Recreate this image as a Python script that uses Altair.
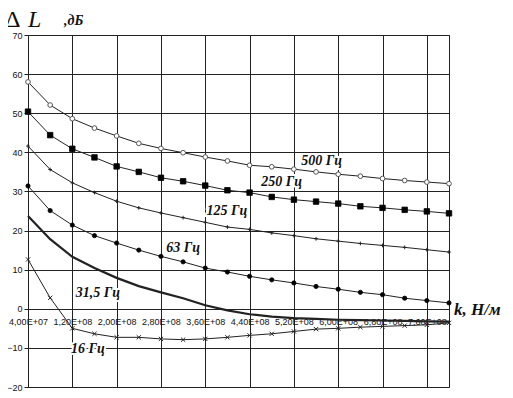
import altair as alt
import pandas as pd

# ---- data ----
k_values = [4.0e7, 8.0e7, 1.2e8, 1.6e8, 2.0e8, 2.4e8, 2.8e8, 3.2e8, 3.6e8, 4.0e8,
            4.4e8, 4.8e8, 5.2e8, 5.6e8, 6.0e8, 6.4e8, 6.8e8, 7.2e8, 7.6e8, 8.0e8]
db_500 = [58.0, 52.1, 48.6, 46.2, 44.2, 42.3, 41.0, 39.9, 38.8, 37.8,
          36.7, 36.3, 35.7, 35.0, 34.4, 33.9, 33.3, 32.8, 32.4, 32.0]
db_250 = [50.4, 44.4, 40.9, 38.7, 36.4, 35.0, 33.5, 32.6, 31.5, 30.3,
          29.7, 28.6, 27.9, 27.4, 26.9, 26.2, 25.8, 25.3, 24.9, 24.4]
db_125 = [41.6, 35.6, 32.2, 29.7, 27.5, 25.8, 24.5, 23.3, 22.1, 20.9,
          20.3, 19.4, 18.7, 17.9, 17.3, 16.7, 16.2, 15.7, 15.1, 14.5]
db_63 = [31.4, 25.1, 21.4, 18.7, 16.8, 15.0, 13.4, 12.0, 10.4, 9.4,
         8.3, 7.4, 6.6, 5.7, 5.0, 4.2, 3.6, 2.7, 2.1, 1.5]
db_31 = [23.7, 17.8, 13.3, 10.4, 7.9, 5.8, 4.2, 2.7, 0.9, -0.4,
         -1.4, -2.0, -2.4, -2.6, -2.8, -2.9, -3.0, -3.1, -3.2, -3.3]
db_16 = [12.6, 2.8, -5.0, -6.4, -7.3, -7.3, -7.7, -7.9, -7.7, -7.3,
         -6.8, -6.4, -5.8, -5.2, -5.0, -4.7, -4.5, -4.3, -4.1, -3.6]

label_text = ["500 Гц", "250 Гц", "125 Гц", "63 Гц", "31,5 Гц", "16 Гц"]
label_k = [5.7e8, 4.98e8, 3.99e8, 3.2e8, 1.66e8, 1.48e8]
label_db = [37.7, 32.3, 24.9, 15.6, 4.1, -10.3]

x_ticks = [4.0e7, 1.2e8, 2.0e8, 2.8e8, 3.6e8, 4.4e8, 5.2e8, 6.0e8, 6.8e8, 7.6e8]
y_ticks = [-20, -10, 0, 10, 20, 30, 40, 50, 60, 70]

W, H = 421, 352
LINE = "#222222"

def frame(vals):
    return pd.DataFrame({"k": k_values, "L": vals})

label_expr = ("replace(format(datum.value / pow(10, floor(log(datum.value)/LN10 + 1e-9)), '.2f'), '.', ',')"
              " + 'E+0' + floor(log(datum.value)/LN10 + 1e-9)")

x_enc = alt.X("k:Q",
              scale=alt.Scale(domain=[4.0e7, 8.0e8], nice=False, zero=False),
              axis=alt.Axis(values=x_ticks, grid=True, gridColor=LINE, gridOpacity=1,
                            gridWidth=1, domain=False, ticks=False, title=None,
                            labelExpr=label_expr, labelFont="Liberation Sans",
                            labelFontSize=9, labelColor="#111", labelPadding=8,
                            offset=-78, labelFlush=False, labelOverlap=False))
y_enc = alt.Y("L:Q",
              scale=alt.Scale(domain=[-20, 70], nice=False, zero=False),
              axis=alt.Axis(values=y_ticks, grid=True, gridColor=LINE, gridOpacity=1,
                            gridWidth=1, domain=True, domainColor=LINE, ticks=True,
                            tickSize=4, tickColor=LINE, title=None,
                            labelFont="Liberation Sans", labelFontSize=9,
                            labelColor="#111", labelPadding=2))

layers = []

def series(vals, width=1.0, shape=None, size=20, filled=True, fill="#111", stroke="#111"):
    base = alt.Chart(frame(vals))
    layers.append(base.mark_line(color=LINE, strokeWidth=width).encode(x=x_enc, y=y_enc))
    if shape is not None:
        if filled:
            pt = base.mark_point(shape=shape, size=size, filled=True, fill=fill,
                                 stroke=stroke, strokeWidth=0.8, opacity=1)
        else:
            pt = base.mark_point(shape=shape, size=size, filled=False, fill="white",
                                 fillOpacity=1, stroke=stroke, strokeWidth=1, opacity=1)
        layers.append(pt.encode(x=x_enc, y=y_enc))

series(db_500, shape="circle", size=22, filled=False, stroke="#555")
series(db_250, shape="square", size=30, filled=True, fill="#000", stroke="#000")
series(db_125, shape="M-1,0L1,0M0,-1L0,1", size=14, filled=False, stroke="#222")
series(db_63, shape="circle", size=18, filled=True, fill="#000", stroke="#000")
series(db_31, width=2.2)
series(db_16, shape="M-1,-1L1,1M1,-1L-1,1", size=18, filled=False, stroke="#222")

labels = pd.DataFrame({"t": label_text, "k": label_k, "L": label_db})
lab_base = alt.Chart(labels)
halo = lab_base.mark_text(font="Liberation Serif", fontSize=14, fontWeight="bold",
                          fontStyle="italic", stroke="white", strokeWidth=4,
                          align="center", baseline="middle").encode(
    x=x_enc, y=y_enc, text="t:N")
lab = lab_base.mark_text(font="Liberation Serif", fontSize=14, fontWeight="bold",
                         fontStyle="italic", color="#111", align="center",
                         baseline="middle").encode(x=x_enc, y=y_enc, text="t:N")

k_title = alt.Chart(pd.DataFrame({"k": [8.0e8], "L": [0], "t": ["k, Н/м"]})).mark_text(
    font="Liberation Serif", fontSize=17, fontWeight="bold", fontStyle="italic",
    color="#111", align="left", baseline="middle", dx=5, dy=1).encode(
    x=x_enc, y=y_enc, text="t:N")

title_delta = alt.Chart(pd.DataFrame({"t": ["Δ"]})).mark_text(
    font="Liberation Serif", fontSize=24, color="#111",
    align="left", baseline="alphabetic").encode(
    x=alt.value(-23), y=alt.value(-8), text="t:N")
title_l = alt.Chart(pd.DataFrame({"t": ["L"]})).mark_text(
    font="Liberation Serif", fontSize=24, fontStyle="italic", color="#111",
    align="left", baseline="alphabetic").encode(
    x=alt.value(0), y=alt.value(-8), text="t:N")
title_small = alt.Chart(pd.DataFrame({"t": [",дБ"]})).mark_text(
    font="Liberation Serif", fontSize=14, fontWeight="bold", fontStyle="italic",
    color="#111", align="left", baseline="alphabetic").encode(
    x=alt.value(36), y=alt.value(-10), text="t:N")

chart = alt.layer(*layers, halo, lab, k_title, title_delta, title_l, title_small).properties(
    width=W, height=H,
    autosize=alt.AutoSizeParams(type="none"),
    padding={"left": 20, "top": 27, "right": 56, "bottom": 10},
    background="white",
).configure_view(stroke=LINE, strokeWidth=1)

chart.save("out.html", embed_options={"renderer": "svg", "actions": False})
